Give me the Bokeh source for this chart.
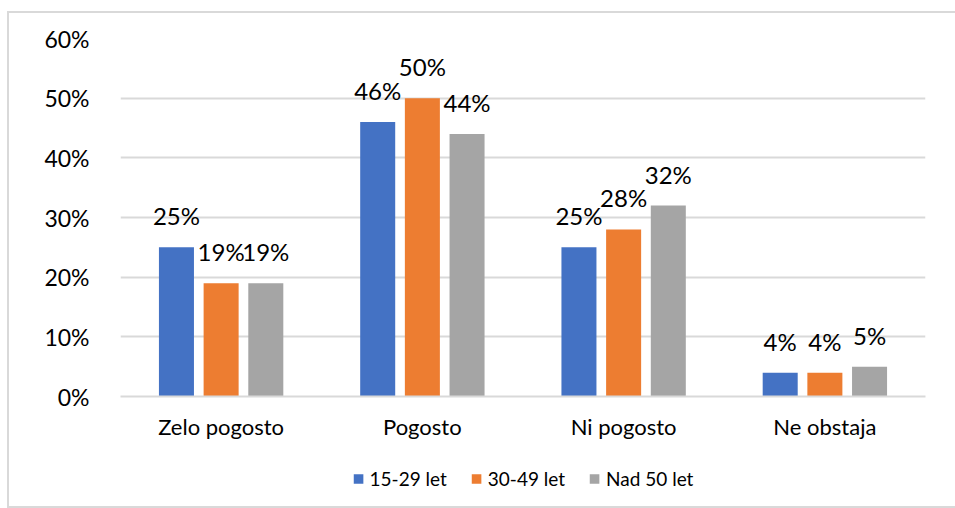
from bokeh.plotting import figure
from bokeh.layouts import column
from bokeh.models import ColumnDataSource, Legend, LegendItem, FixedTicker, Range1d, CustomJSTickFormatter
from bokeh.transform import dodge
from bokeh.core.properties import value
from bokeh.embed import file_html
from bokeh.resources import INLINE

categories = ["Zelo pogosto", "Pogosto", "Ni pogosto", "Ne obstaja"]
series_names = ["15-29 let", "30-49 let", "Nad 50 let"]
s1 = [25, 46, 25, 4]
s2 = [19, 50, 28, 4]
s3 = [19, 44, 32, 5]
colors = ["#4472C4", "#ED7D31", "#A5A5A5"]
y_ticks = [0, 10, 20, 30, 40, 50, 60]

FONT = "Lato"

src = ColumnDataSource(dict(
    cat=categories,
    s1=s1, s2=s2, s3=s3,
    l1=[f"{v}%" for v in s1],
    l2=[f"{v}%" for v in s2],
    l3=[f"{v}%" for v in s3],
))

p = figure(x_range=categories, y_range=Range1d(0, 60), width=946, height=437,
           output_backend="svg", toolbar_location=None,
           min_border_left=111, min_border_right=30, min_border_top=25, min_border_bottom=54)
p.outline_line_color = None

offsets = [-0.222, 0.0, 0.222]
for key, lab, col, off in zip(["s1", "s2", "s3"], ["l1", "l2", "l3"], colors, offsets):
    p.vbar(x=dodge("cat", off, range=p.x_range), top=key, width=0.174, source=src,
           fill_color=col, line_color=None)
    p.text(x=dodge("cat", off, range=p.x_range), y=key, text=lab, source=src,
           text_align="center", text_baseline="bottom", y_offset=-17,
           text_font=value(FONT), text_font_size="24px", text_color="#000000")

p.yaxis.ticker = FixedTicker(ticks=y_ticks)
p.yaxis.formatter = CustomJSTickFormatter(code="return tick + '%';")
p.yaxis.axis_line_color = None
p.yaxis.major_tick_line_color = None
p.yaxis.minor_tick_line_color = None
p.yaxis.major_label_standoff = 25
p.yaxis.major_label_text_font = FONT
p.yaxis.major_label_text_font_size = "23px"
p.yaxis.major_label_text_color = "#000000"

p.xaxis.axis_line_color = "#d9d9d9"
p.xaxis.axis_line_width = 2
p.xaxis.major_tick_line_color = None
p.xaxis.minor_tick_line_color = None
p.xaxis.major_label_standoff = 10
p.xaxis.major_label_text_font = FONT
p.xaxis.major_label_text_font_size = "22px"
p.xaxis.major_label_text_color = "#000000"

p.xgrid.grid_line_color = None
p.ygrid.grid_line_color = "#d9d9d9"
p.ygrid.grid_line_width = 2

# legend strip: same series drawn off-view so only the legend shows
lg = figure(width=946, height=56, output_backend="svg", toolbar_location=None,
            x_range=Range1d(0, 1), y_range=Range1d(100, 101),
            x_axis_type=None, y_axis_type=None,
            min_border_left=0, min_border_right=0, min_border_top=0, min_border_bottom=0)
lg.outline_line_color = None
lg.xgrid.visible = False
lg.ygrid.visible = False
items = []
for key, name, col in zip(["s1", "s2", "s3"], series_names, colors):
    r = lg.vbar(x=key, top=key, width=0.1, source=src, fill_color=col, line_color=None)
    items.append(LegendItem(label=name, renderers=[r]))
legend = Legend(items=items, orientation="horizontal", location="center",
                label_text_font=FONT, label_text_font_size="19px", label_text_color="#000000",
                glyph_width=12, glyph_height=12, spacing=23, label_standoff=6,
                border_line_color=None, background_fill_alpha=0, padding=4, margin=0)
lg.add_layout(legend)

layout = column(p, lg, spacing=0)
layout.styles = {"border": "2px solid #d9d9d9", "margin-left": "7px", "margin-top": "11px"}

open("out.html", "w").write(file_html(layout, INLINE))
